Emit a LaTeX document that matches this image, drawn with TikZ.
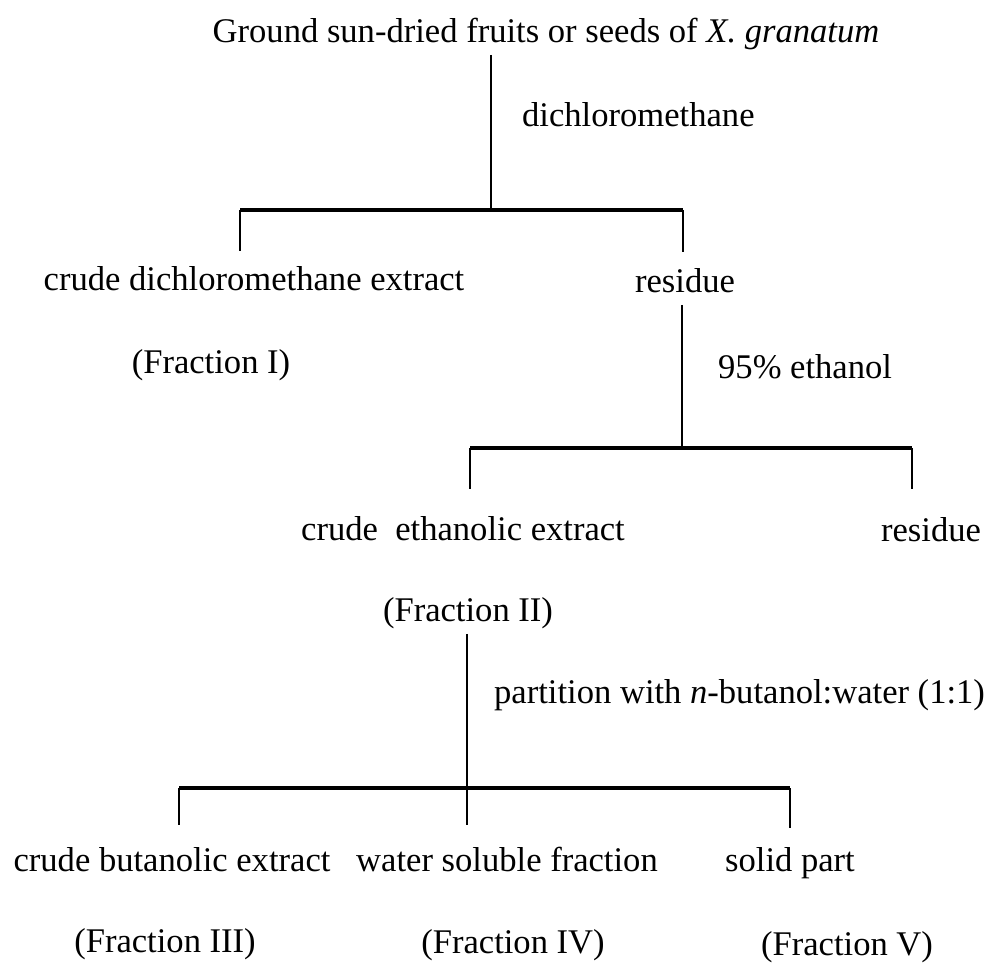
\documentclass[tikz,border=0pt]{standalone}
\usepackage{fontspec}
\setmainfont{Liberation Serif}
\usetikzlibrary{positioning}

\begin{document}
\begin{tikzpicture}[font=\fontsize{12.3}{14}\selectfont,
    txt/.style={inner sep=2pt, text height=0.7em, text depth=0.22em, yshift=-0.06cm},
    stem/.style={line width=0.6pt},
    bar/.style={line width=1.1pt}]
    \useasboundingbox (0,0) rectangle (12.4375,-12.025);

    % starting material and first extraction
    \node[txt] (src) at (6.825,-0.3875) {Ground sun-dried fruits or seeds of \textit{X. granatum}};
    \node[txt, anchor=west] (solv1) at (6.45,-1.4375) {dichloromethane};

    \coordinate (j1) at (6.1375,-2.625);
    \coordinate (b1l) at (3.0,-2.625);
    \coordinate (b1r) at (8.5375,-2.625);
    \coordinate (t1l) at (3.0,-3.1375);
    \coordinate (t1r) at (8.5375,-3.15);

    \node[txt] (dcm) at (3.175,-3.4875) {crude dichloromethane extract};
    \node[txt] (res1) at (8.5625,-3.5125) {residue};
    \node[txt] (fr1) at (2.6375,-4.525) {(Fraction I)};

    \draw[stem] (src.south -| j1) -- (j1);
    \draw[bar] (b1l) -- (b1r);
    \draw[stem] (b1l) -- (t1l);
    \draw[stem] (b1r) -- (t1r);

    % ethanol extraction of the residue
    \node[txt, anchor=west] (solv2) at (8.9,-4.5875) {95\% ethanol};

    \coordinate (j2) at (8.525,-5.6);
    \coordinate (b2l) at (5.875,-5.6);
    \coordinate (b2r) at (11.4,-5.6);
    \coordinate (t2l) at (5.875,-6.1125);
    \coordinate (t2r) at (11.4,-6.1125);

    \node[txt] (eth) at (5.7875,-6.6125) {crude\ \ ethanolic extract};
    \node[txt] (res2) at (11.6375,-6.625) {residue};
    \node[txt] (fr2) at (5.85,-7.625) {(Fraction II)};

    \draw[stem] (res1.south -| j2) -- (j2);
    \draw[bar] (b2l) -- (b2r);
    \draw[stem] (b2l) -- (t2l);
    \draw[stem] (b2r) -- (t2r);

    % partition
    \node[txt, anchor=west] (solv3) at (6.1,-8.65) {partition with \textit{n}-butanol:water (1:1)};

    \coordinate (j3) at (5.8375,-9.85);
    \coordinate (b3l) at (2.2375,-9.85);
    \coordinate (b3r) at (9.875,-9.85);
    \coordinate (t3l) at (2.2375,-10.3125);
    \coordinate (t3m) at (5.8375,-10.3125);
    \coordinate (t3r) at (9.875,-10.35);

    \node[txt] (bu) at (2.15,-10.75) {crude butanolic extract};
    \node[txt] (ws) at (6.3375,-10.75) {water soluble fraction};
    \node[txt] (sp) at (9.875,-10.75) {solid part};
    \node[txt] (fr3) at (2.0625,-11.76) {(Fraction III)};
    \node[txt] (fr4) at (6.4125,-11.775) {(Fraction IV)};
    \node[txt] (fr5) at (10.5875,-11.8) {(Fraction V)};

    \draw[stem] (fr2.south -| j3) -- (t3m);
    \draw[bar] (b3l) -- (b3r);
    \draw[stem] (b3l) -- (t3l);
    \draw[stem] (b3r) -- (t3r);
\end{tikzpicture}
\end{document}
